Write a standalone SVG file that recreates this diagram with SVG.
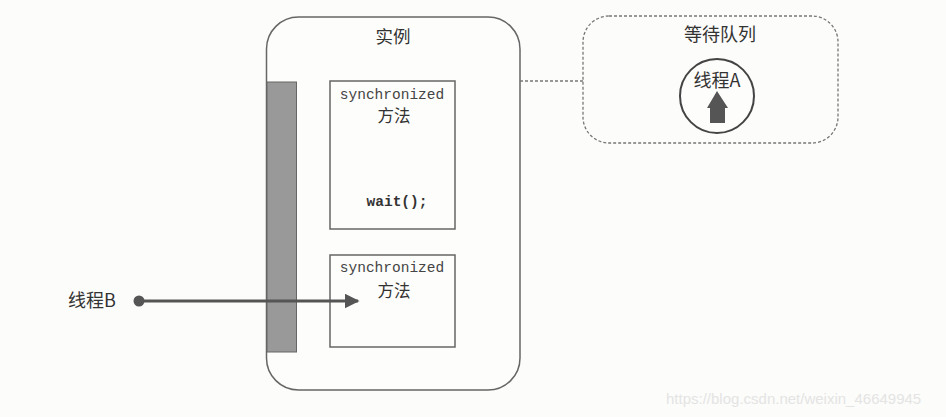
<svg xmlns="http://www.w3.org/2000/svg" width="946" height="417" viewBox="0 0 946 417">
<defs>
<style>
.box{fill:#fdfdfb;stroke:#666;stroke-width:1.5}
.mono{font-family:"Liberation Mono","DejaVu Sans Mono",monospace;font-size:14.5px;fill:#444;text-anchor:middle}
.cjk{font-family:"Noto Sans CJK SC","Noto Sans",sans-serif;fill:#333;text-anchor:middle}
</style>
<marker id="ah" viewBox="0 0 10 10" refX="9" refY="5" markerWidth="5" markerHeight="5" orient="auto" markerUnits="strokeWidth">
<path d="M0,0 L10,5 L0,10 Z" fill="#555"/>
</marker>
</defs>
<rect width="946" height="417" fill="#fcfcfa"/>
<g id="instance">
<rect class="box" x="266.5" y="17" width="253.5" height="373" rx="32" ry="32"/>
<text class="cjk" x="393" y="43" font-size="17.5">实例</text>
<rect x="267" y="82" width="29.5" height="270" fill="#999" stroke="#666" stroke-width="1"/>
</g>
<g id="method1">
<rect class="box" x="330" y="81" width="125" height="148"/>
<text class="mono" x="392" y="99">synchronized</text>
<text class="cjk" x="394" y="122" font-size="16.5">方法</text>
<text class="mono" x="397" y="206" font-weight="bold" style="fill:#333">wait();</text>
</g>
<g id="method2">
<rect class="box" x="330" y="255" width="125" height="92"/>
<text class="mono" x="392" y="272">synchronized</text>
<text class="cjk" x="394" y="297" font-size="16.5">方法</text>
</g>
<g id="queue">
<rect x="583" y="16" width="255" height="127" rx="26" ry="26" fill="none" stroke="#777" stroke-width="1.3" stroke-dasharray="3,2"/>
<text class="cjk" x="720" y="41" font-size="18">等待队列</text>
<circle cx="717" cy="96" r="37" fill="#fdfdfb" stroke="#444" stroke-width="2"/>
<text class="cjk" x="717" y="87" font-size="18">线程A</text>
<path d="M717,91 L728,108 L725,108 L725,123 L710,123 L710,108 L707,108 Z" fill="#555"/>
</g>
<g id="threadB">
<text class="cjk" x="92" y="307" font-size="18">线程B</text>
</g>
<g id="connectors">
<line x1="520" y1="81" x2="583" y2="81" stroke="#777" stroke-width="1.3" stroke-dasharray="3,2"/>
<circle cx="139" cy="301" r="5.5" fill="#555"/>
<line x1="139" y1="301" x2="358" y2="301" stroke="#555" stroke-width="3" marker-end="url(#ah)"/>
</g>
<text x="666" y="404" font-family="Liberation Sans, Arial, sans-serif" font-size="15" fill="#e4e4e4">https://blog.csdn.net/weixin_46649945</text>
</svg>
